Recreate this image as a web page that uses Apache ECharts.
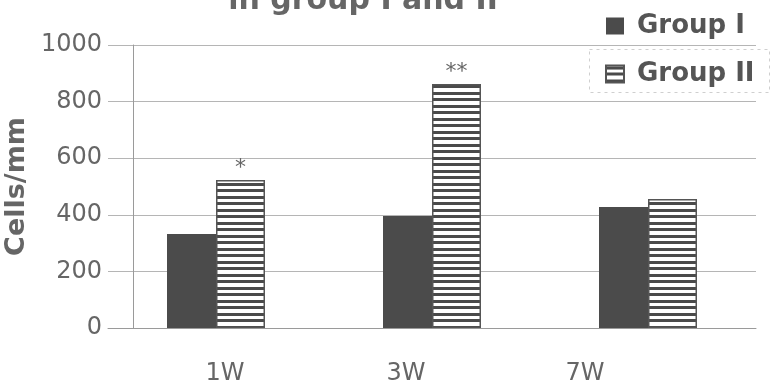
<!DOCTYPE html>
<html>
<head>
<meta charset="utf-8">
<script src="https://cdn.jsdelivr.net/npm/echarts@6/dist/echarts.min.js"></script>
<style>html,body{margin:0;padding:0;background:#fff}#c{width:778px;height:392px}</style>
</head>
<body>
<div id="c"></div>
<script>
const categories = ['1W', '3W', '7W'];
const groupI = [332, 396, 428];
const groupII = [523, 862, 456];
const groupIIMarks = ['*', '**', ''];
const seriesNames = ['Group I', 'Group II'];
const titleText = 'in group I and II';
const yAxisName = 'Cells/mm';

function stripes() {
  const c = document.createElement('canvas');
  c.width = 8; c.height = 13;
  const g = c.getContext('2d');
  g.fillStyle = '#ffffff'; g.fillRect(0, 0, 8, 13);
  g.fillStyle = '#4a4a4a';
  g.fillRect(0, 1, 8, 3);
  g.fillRect(0, 7, 8, 3);
  return c;
}

const shifts = { '1W': 9, '3W': -26, '7W': -63 };
const rich = {};
categories.forEach((c, i) => {
  const s = shifts[c] || 0;
  rich['k' + i] = {
    fontFamily: 'DejaVu Sans', fontSize: 24, color: '#666',
    padding: s >= 0 ? [0, 0, 0, 2 * s] : [0, -2 * s, 0, 0]
  };
});

const chart = echarts.init(document.getElementById('c'), null, { renderer: 'canvas' });
chart.setOption({
  backgroundColor: '#ffffff',
  animation: false,
  title: {
    text: titleText,
    left: 358, textAlign: 'center',
    top: -19,
    textStyle: { fontFamily: 'DejaVu Sans', fontWeight: 'bold', fontSize: 30, color: '#666' }
  },
  legend: {
    orient: 'vertical',
    left: 600, top: 8,
    icon: 'rect',
    itemWidth: 18, itemHeight: 17,
    itemGap: 22,
    data: seriesNames,
    textStyle: { fontFamily: 'DejaVu Sans', fontWeight: 'bold', fontSize: 26, color: '#555', padding: [0, 0, 0, 8] }
  },
  graphic: [{
    type: 'rect', left: 587, top: 47,
    shape: { width: 180, height: 43 },
    style: { fill: 'none', stroke: '#cfcfcf', lineWidth: 1, lineDash: [3, 4] },
    silent: true
  }],
  grid: { left: 108, right: 22, top: 45, bottom: 64, containLabel: false, outerBoundsMode: 'none' },
  xAxis: {
    type: 'category',
    data: categories,
    axisTick: { show: false },
    axisLine: { lineStyle: { color: '#9a9a9a', width: 1 } },
    axisLabel: {
      interval: 0, margin: 34,
      formatter: (v, i) => '{k' + i + '|' + v + '}',
      rich: rich
    }
  },
  yAxis: {
    type: 'value',
    min: 0, max: 1000, interval: 200,
    offset: -25,
    name: yAxisName,
    nameLocation: 'middle',
    nameGap: 97,
    nameTextStyle: { fontFamily: 'DejaVu Sans', fontWeight: 'bold', fontSize: 27, color: '#666' },
    axisLine: { show: true, lineStyle: { color: '#9a9a9a', width: 1 } },
    axisTick: { show: false },
    axisLabel: { margin: 31, fontFamily: 'DejaVu Sans', fontSize: 24, color: '#666', formatter: v => String(v) },
    splitLine: { lineStyle: { color: '#b5b5b5', width: 1 } }
  },
  series: [
    {
      name: seriesNames[0], type: 'bar', data: groupI,
      barWidth: 49, barGap: '0%',
      itemStyle: { color: '#4b4b4b' }
    },
    {
      name: seriesNames[1], type: 'bar', data: groupII,
      barWidth: 49, barGap: '0%',
      itemStyle: { color: { image: stripes(), repeat: 'repeat' }, borderColor: '#555', borderWidth: 1.5 },
      label: {
        show: true, position: 'top', distance: 1,
        formatter: p => groupIIMarks[p.dataIndex],
        fontFamily: 'DejaVu Sans', fontSize: 22, color: '#666'
      }
    }
  ]
});
</script>
</body>
</html>
